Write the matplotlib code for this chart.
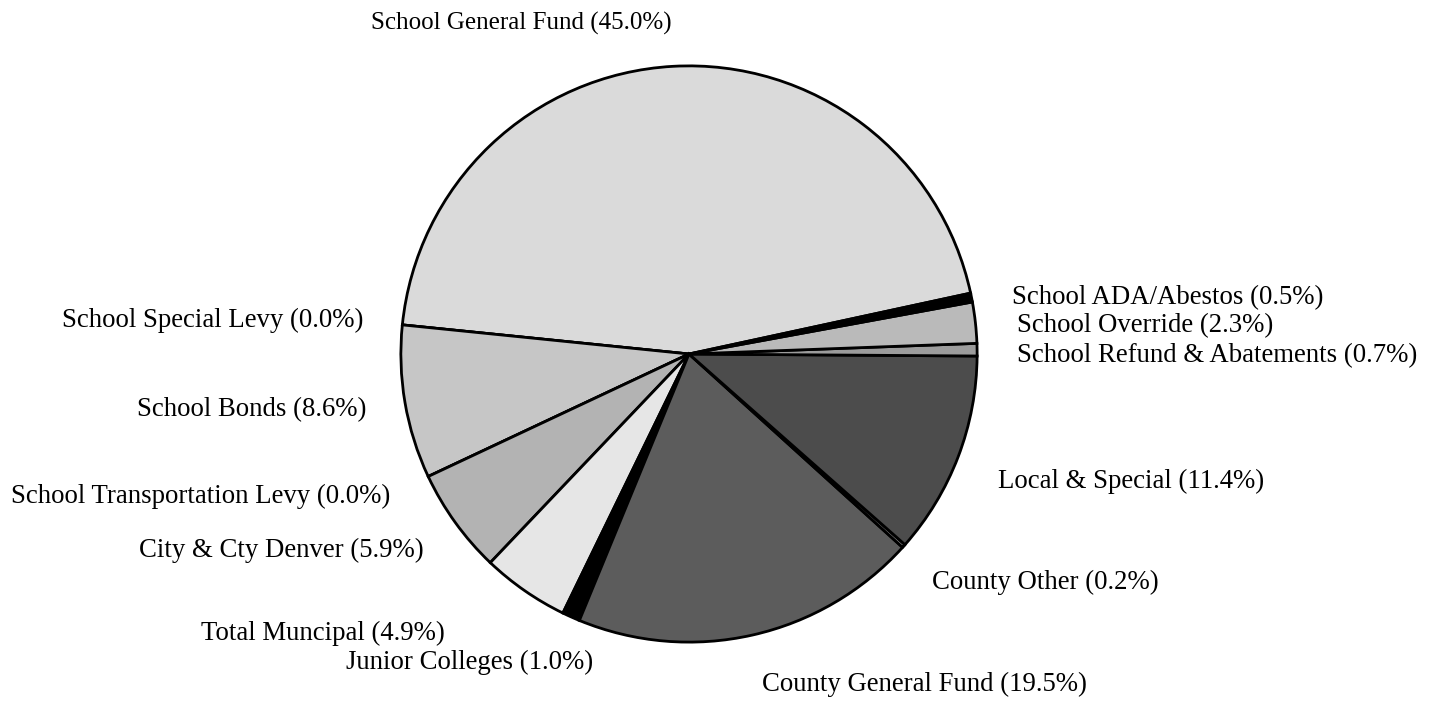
import matplotlib
matplotlib.use("Agg")
import matplotlib.pyplot as plt

# data, in counter-clockwise order starting with the big slice
names = ["School General Fund", "School Special Levy", "School Bonds",
         "School Transportation Levy", "City & Cty Denver", "Total Muncipal",
         "Junior Colleges", "County General Fund", "County Other",
         "Local & Special", "School Refund & Abatements", "School Override",
         "School ADA/Abestos"]
shares = [45.0, 0.0, 8.6, 0.0, 5.9, 4.9, 1.0, 19.5, 0.2, 11.4, 0.7, 2.3, 0.5]

colors = ["#dadada", "#cfcfcf", "#c6c6c6", "#bdbdbd", "#b3b3b3", "#e6e6e6",
          "#000000", "#5c5c5c", "#8a8a8a", "#4c4c4c", "#9c9c9c", "#bababa",
          "#000000"]

# label anchor (pixel x, pixel y from top, alignment)
label_pos = {
    "School General Fund": (521, 23, "center"),
    "School Special Levy": (363, 320, "right"),
    "School Bonds": (366, 410, "right"),
    "School Transportation Levy": (390, 496, "right"),
    "City & Cty Denver": (424, 550, "right"),
    "Total Muncipal": (445, 633, "right"),
    "Junior Colleges": (346, 662, "left"),
    "County General Fund": (762, 684, "left"),
    "County Other": (932, 582, "left"),
    "Local & Special": (998, 481, "left"),
    "School Refund & Abatements": (1017, 356, "left"),
    "School Override": (1017, 326, "left"),
    "School ADA/Abestos": (1012, 298, "left"),
}

W, H = 1429, 703
fig = plt.figure(figsize=(W / 100, H / 100), dpi=100)
cx, cy, r = 689, 354, 291
ax = fig.add_axes([(cx - r) / W, (H - cy - r) / H, 2 * r / W, 2 * r / H])

ax.pie(shares, colors=colors, startangle=12.2, counterclock=True,
       radius=1, wedgeprops=dict(edgecolor="black", linewidth=2))
ax.set_xlim(-1.01, 1.01)
ax.set_ylim(-1.01, 1.01)
ax.axis("off")

for name, val in zip(names, shares):
    x, y, ha = label_pos[name]
    size = 18 if name == "School General Fund" else 19.3
    fig.text(x / W, 1 - y / H, f"{name} ({val:.1f}%)", ha=ha, va="center",
             fontsize=size, family="Liberation Serif", color="black")

fig.savefig("out.png", dpi=100)
